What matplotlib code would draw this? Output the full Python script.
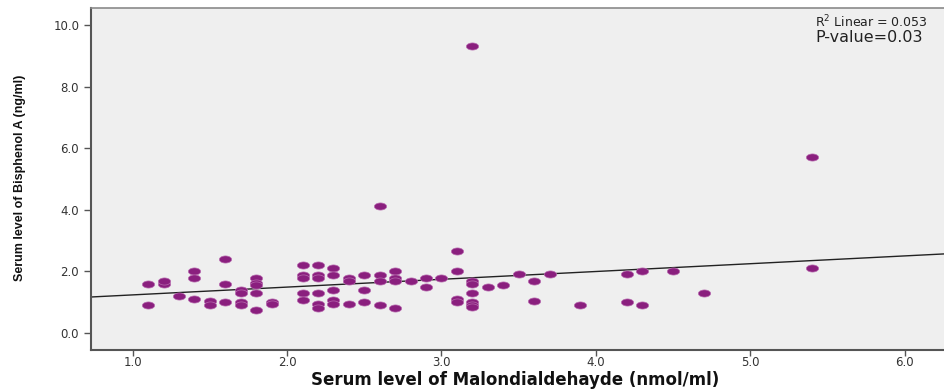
import numpy as np
import matplotlib.pyplot as plt
from matplotlib.path import Path

# MDA (x) vs BPA (y)
mda = [1.1, 1.1, 1.2, 1.2, 1.3, 1.4, 1.4, 1.4, 1.5, 1.5,
       1.6, 1.6, 1.6, 1.7, 1.7, 1.7, 1.7, 1.8, 1.8, 1.8,
       1.8, 1.8, 1.9, 1.9, 2.1, 2.1, 2.1, 2.1, 2.1, 2.2,
       2.2, 2.2, 2.2, 2.2, 2.2, 2.3, 2.3, 2.3, 2.3, 2.3,
       2.4, 2.4, 2.4, 2.5, 2.5, 2.5, 2.6, 2.6, 2.6, 2.6,
       2.7, 2.7, 2.7, 2.7, 2.8, 2.9, 2.9, 3.0, 3.1, 3.1,
       3.1, 3.1, 3.2, 3.2, 3.2, 3.2, 3.2, 3.2, 3.2, 3.3,
       3.4, 3.5, 3.6, 3.6, 3.7, 3.9, 4.2, 4.2, 4.3, 4.3,
       4.5, 4.7, 5.4, 5.4]
bpa = [1.6, 0.9, 1.6, 1.68, 1.2, 2.0, 1.8, 1.1, 1.05, 0.92,
       2.4, 1.6, 1.0, 1.4, 1.3, 1.0, 0.9, 1.8, 1.63, 1.55,
       1.3, 0.75, 1.0, 0.95, 2.2, 1.89, 1.8, 1.3, 1.06, 2.2,
       1.89, 1.8, 1.3, 0.94, 0.82, 2.1, 1.89, 1.4, 1.06, 0.94,
       1.8, 1.7, 0.94, 1.89, 1.4, 1.0, 4.13, 1.89, 1.7, 0.9,
       2.0, 1.8, 1.7, 0.8, 1.7, 1.8, 1.5, 1.8, 2.66, 2.0,
       1.1, 1.0, 9.3, 1.7, 1.6, 1.3, 1.0, 0.92, 0.85, 1.5,
       1.55, 1.9, 1.7, 1.04, 1.9, 0.9, 1.9, 1.0, 2.0, 0.9,
       2.0, 1.3, 5.7, 2.1]

# fit line as drawn in the reference
fit_intercept = 0.985
fit_slope = 0.253
r2_text = "R$^2$ Linear = 0.053"
p_text = "P-value=0.03"

fig = plt.figure(figsize=(9.45, 3.9), dpi=100)
ax = fig.add_axes([0.0963, 0.1026, 0.91, 0.877])
ax.set_facecolor('#efefef')

# flattened dots, like the stretched SPSS markers
t = np.linspace(0, 2 * np.pi, 40)
ellipse = Path(np.column_stack([np.cos(t), 0.58 * np.sin(t)]), closed=True)
ax.scatter(mda, bpa, s=78, marker=ellipse, color='#8a1f7e',
           edgecolors='#b76aae', linewidths=0.5, zorder=3)

xl = np.array([0.73, 6.3])
ax.plot(xl, fit_intercept + fit_slope * xl, color='#222222', lw=1.0, zorder=2)

ax.set_xlim(0.73, 6.3)
ax.set_ylim(-0.55, 10.55)
ax.set_xticks([1, 2, 3, 4, 5, 6])
ax.set_yticks([0, 2, 4, 6, 8, 10])
ax.xaxis.set_major_formatter(plt.FormatStrFormatter('%.1f'))
ax.yaxis.set_major_formatter(plt.FormatStrFormatter('%.1f'))
ax.tick_params(direction='out', length=5, width=1, color='#555555',
               labelsize=8.5, labelcolor='#333333')
ax.tick_params(axis='x', length=4, pad=0.5)
for lab in ax.get_xticklabels() + ax.get_yticklabels():
    lab.set_family('DejaVu Sans')

for side in ['left', 'bottom']:
    ax.spines[side].set_color('#555555')
    ax.spines[side].set_linewidth(1.5)
ax.spines['top'].set_color('#8a8a8a')
ax.spines['top'].set_linewidth(1.2)
ax.spines['right'].set_visible(False)

fig.text(0.5455, 0.026, 'Serum level of Malondialdehayde (nmol/ml)',
         ha='center', va='center', fontsize=12, fontweight='bold',
         family='DejaVu Sans', color='#111111')
fig.text(0.021, 0.545, 'Serum level of Bisphenol A (ng/ml)', rotation=90,
         ha='center', va='center', fontsize=9, fontweight='bold',
         family=['Liberation Sans Narrow', 'Liberation Sans'], color='#111111')

fig.text(0.982, 0.943, r2_text, ha='right', va='center', fontsize=9,
         color='#222222', family='DejaVu Sans')
fig.text(0.977, 0.903, p_text, ha='right', va='center', fontsize=11.5,
         color='#222222', family='DejaVu Sans')

fig.savefig('out.png', dpi=100)
